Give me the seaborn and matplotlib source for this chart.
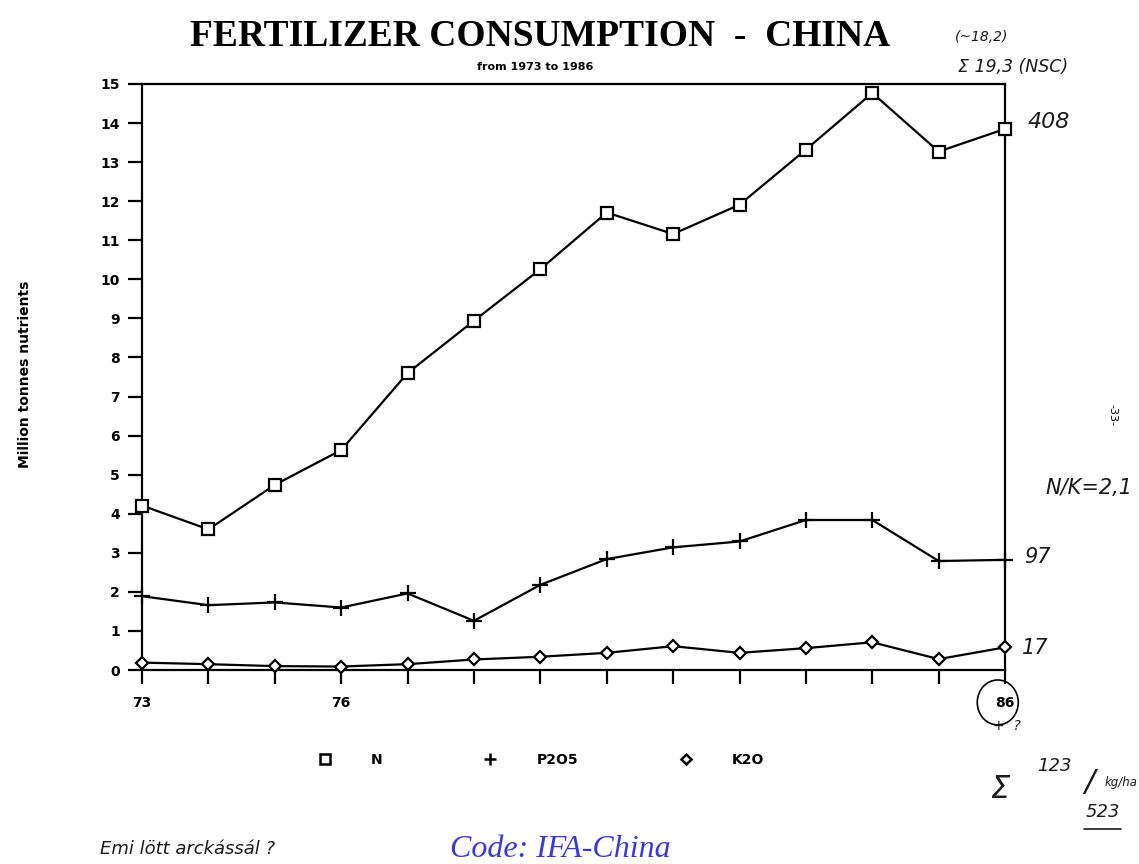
import numpy as np
import pandas as pd
import seaborn as sns
import matplotlib
matplotlib.use("Agg")
import matplotlib.pyplot as plt
from matplotlib.lines import Line2D
from matplotlib.patches import Ellipse

# ---- data (million tonnes nutrients) ----
years = list(range(1973, 1987))
n_values = [4.21, 3.60, 4.74, 5.63, 7.60, 8.94, 10.26, 11.71, 11.16, 11.91, 13.32, 14.77, 13.27, 13.85]
p2o5_values = [1.89, 1.66, 1.73, 1.60, 1.96, 1.26, 2.18, 2.84, 3.14, 3.29, 3.84, 3.84, 2.79, 2.82]
k2o_values = [0.19, 0.15, 0.10, 0.09, 0.15, 0.27, 0.34, 0.44, 0.61, 0.44, 0.56, 0.71, 0.28, 0.58]
series_names = ["N", "P2O5", "K2O"]
x_tick_labels = {1973: "73", 1976: "76", 1986: "86"}
y_ticks = list(range(0, 16))

df = pd.DataFrame({
    "year": years * 3,
    "value": n_values + p2o5_values + k2o_values,
    "nutrient": [s for s in series_names for _ in years],
})

sns.set_theme(style="white")
plt.rcParams["font.family"] = ["DejaVu Sans"]
plt.rcParams["text.color"] = "black"
plt.rcParams["xtick.color"] = "black"
plt.rcParams["ytick.color"] = "black"

fig = plt.figure(figsize=(11.39, 8.64), dpi=100)
ax = fig.add_axes([0.1247, 0.2245, 0.7577, 0.6783])

markers = {"N": "s", "P2O5": "+", "K2O": "D"}
sizes = {"N": 9, "P2O5": 11, "K2O": 6}
for name in series_names:
    sub = df[df["nutrient"] == name]
    sns.lineplot(data=sub, x="year", y="value", ax=ax, color="black",
                 linewidth=1.6, marker=markers[name], markersize=sizes[name],
                 markerfacecolor="white", markeredgecolor="black",
                 markeredgewidth=1.6, legend=False, clip_on=False, zorder=3)

ax.set_xlim(1973, 1986)
ax.set_ylim(0, 15)
ax.set_xticks(years)
ax.set_xticklabels([x_tick_labels.get(y, "") for y in years],
                   fontsize=10, fontweight="heavy")
ax.set_yticks(y_ticks)
ax.set_yticklabels([str(v) for v in y_ticks], fontsize=10, fontweight="heavy")
ax.tick_params(axis="both", direction="out", length=10, width=1.6,
               color="black", pad=6, bottom=True, left=True)
ax.tick_params(axis="x", pad=9)
for sp in ax.spines.values():
    sp.set_color("black")
    sp.set_linewidth(1.6)
ax.set_xlabel("")
ax.set_ylabel("")
ax.grid(False)

fig.text(0.022, 0.567, "Million tonnes nutrients", rotation=90, ha="center",
         va="center", fontsize=10, fontweight="heavy")

# title
fig.text(0.474, 0.958, "FERTILIZER CONSUMPTION  -  CHINA", ha="center",
         va="center", fontsize=27, fontweight="bold", family="Liberation Serif")
fig.text(0.47, 0.922, "from 1973 to 1986", ha="center", va="center",
         fontsize=8, fontweight="heavy")

# legend
handles = [Line2D([], [], linestyle="none", marker=markers[n], color="black",
                  markerfacecolor="white", markeredgewidth=1.8,
                  markersize={"N": 7, "P2O5": 8, "K2O": 5}[n]) for n in series_names]
leg = fig.legend(handles, series_names, loc="center", bbox_to_anchor=(0.472, 0.12),
                 ncol=3, frameon=False, handletextpad=2.3, columnspacing=6.8,
                 prop={"size": 10, "weight": "heavy"})

# handwritten notes
hw = dict(family="DejaVu Sans", style="italic", color="#1a1a1a", fontweight="light")
fig.text(0.838, 0.953, "(~18,2)", fontsize=10, **hw)
fig.text(0.841, 0.917, "Σ 19,3 (NSC)", fontsize=12.5, **hw)
fig.text(0.902, 0.852, "408", fontsize=16, **hw)
fig.text(0.918, 0.428, "N/K=2,1", fontsize=15, **hw)
fig.text(0.899, 0.348, "97", fontsize=15, **hw)
fig.text(0.897, 0.243, "17", fontsize=15, **hw)
fig.text(0.977, 0.52, "-33-", rotation=270, ha="center", va="center", fontsize=8)
fig.text(0.878, 0.086, "Σ", fontsize=22, ha="center", va="center", **hw)
fig.text(0.926, 0.113, "123", fontsize=13, ha="center", va="center", **hw)
fig.text(0.956, 0.094, "/", fontsize=22, ha="center", va="center", **hw)
fig.text(0.968, 0.060, "523", fontsize=13, ha="center", va="center", **hw)
fig.text(0.999, 0.094, "kg/ha", fontsize=8.5, ha="right", va="center", **hw)
fig.lines.append(Line2D([0.952, 0.984], [0.040, 0.040], transform=fig.transFigure,
                        color="#1a1a1a", linewidth=1.2))
fig.text(0.872, 0.155, "+  ?", fontsize=10, **hw)
fig.text(0.088, 0.012, "Emi lött arckássál ?", fontsize=13, **hw)
fig.text(0.492, 0.0, "Code: IFA-China", fontsize=23, color="#3a3ad8",
         style="italic", family="Liberation Serif", ha="center", va="bottom")
fig.patches.append(Ellipse((0.876, 0.187), 0.036, 0.052, transform=fig.transFigure,
                           fill=False, edgecolor="black", linewidth=1.2))

fig.savefig("out.png", dpi=100, facecolor="white")
